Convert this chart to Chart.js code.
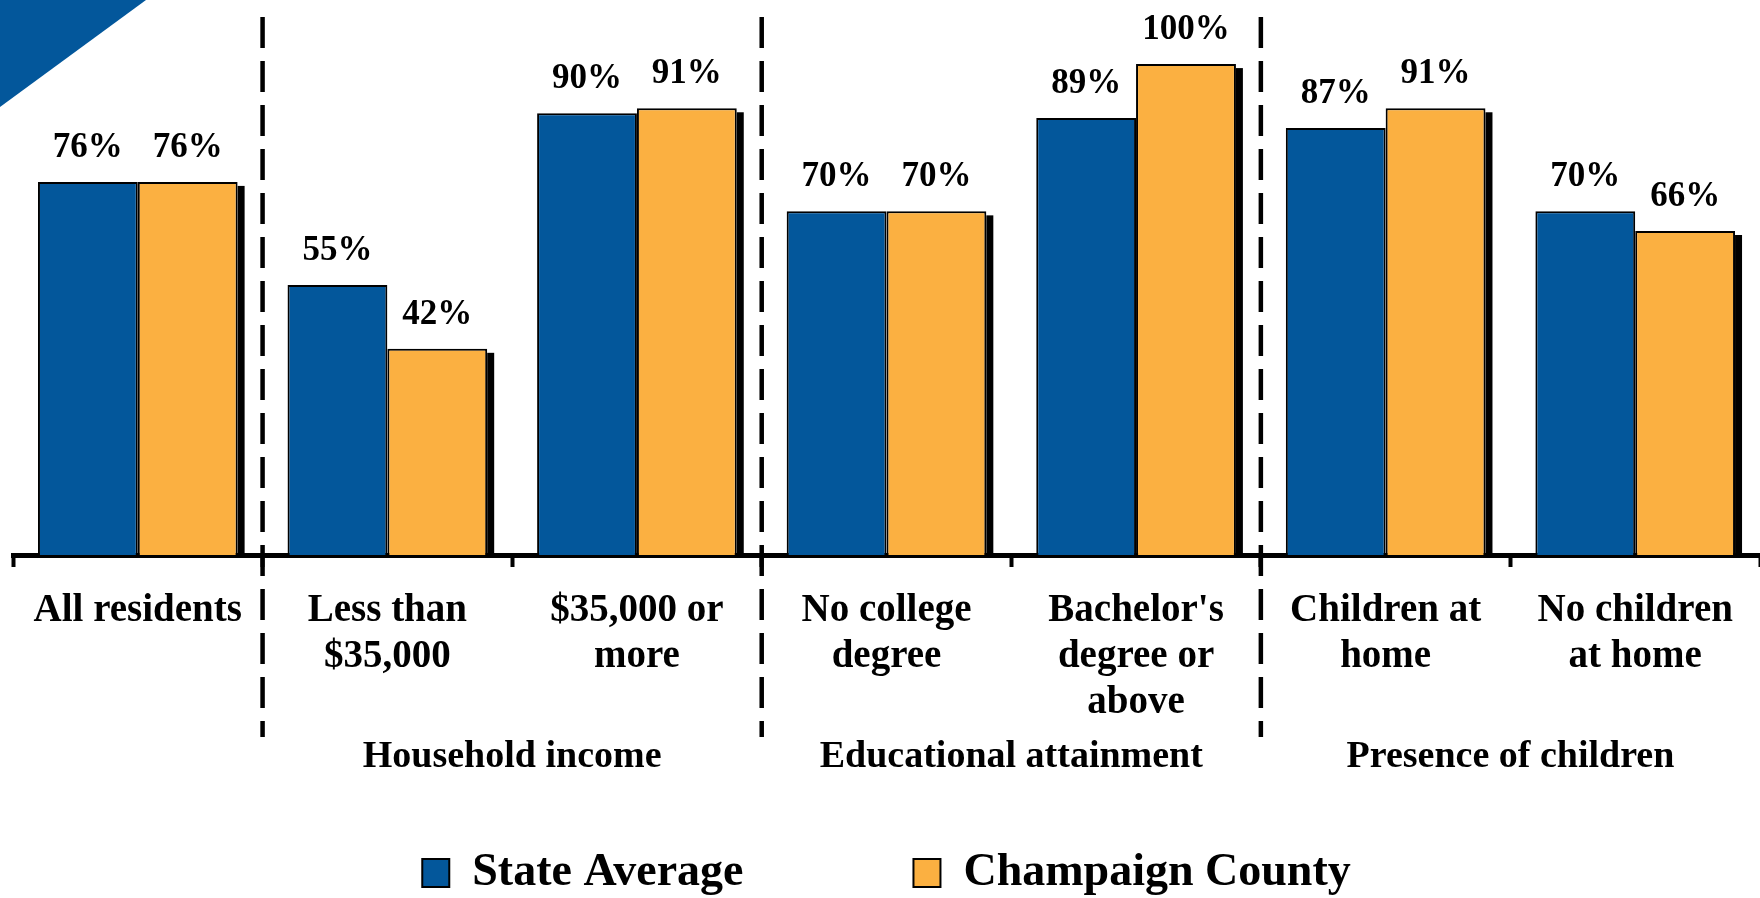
<!DOCTYPE html>
<html>
<head>
<meta charset="utf-8">
<title>State Average vs Champaign County</title>
<script src="https://cdn.jsdelivr.net/npm/chart.js@4/dist/chart.umd.min.js"></script>
<style>
    html, body { margin: 0; padding: 0; background: #ffffff; }
    #wrap { position: relative; width: 1760px; height: 898px; }
</style>
</head>
<body>
<div id="wrap"><canvas id="groupChart"></canvas></div>
<script>
// Chart data
const categories = [
    'All residents',
    ['Less than', '$35,000'],
    ['$35,000 or', 'more'],
    ['No college', 'degree'],
    ["Bachelor's", 'degree or', 'above'],
    ['Children at', 'home'],
    ['No children', 'at home']
];
const seriesNames = ['State Average', 'Champaign County'];
const stateAverage = [76, 55, 90, 70, 89, 87, 70];
const champaignCounty = [76, 42, 91, 70, 100, 91, 66];

// Group captions under the axis, and the category index pairs they span
const groupLabels = ['Household income', 'Educational attainment', 'Presence of children'];
const groupSpans = [[1, 2], [3, 4], [5, 6]];
// Dashed dividers sit after these category indexes
const dividerAfter = [0, 2, 4];

const SERIF = "'Liberation Serif', 'DejaVu Serif', serif";
const BLUE = '#03579B';
const ORANGE = '#FBB041';

/**
 * Blue corner of the slide
 */
const cornerPlugin = {
    id: 'corner',
    beforeDraw(chart) {
        const ctx = chart.ctx;
        ctx.save();
        ctx.fillStyle = BLUE;
        ctx.beginPath();
        ctx.moveTo(0, 0);
        ctx.lineTo(146, 0);
        ctx.lineTo(0, 107);
        ctx.closePath();
        ctx.fill();
        ctx.restore();
    }
};

/**
 * Let the three-line tick labels run below the (short) axis box
 */
const labelRoomPlugin = {
    id: 'labelRoom',
    afterLayout(chart) {
        const x = chart.scales.x;
        x.bottom = x.top + 180;
    }
};

/**
 * Drop shadow on the right of the second bar of each pair
 */
const shadowPlugin = {
    id: 'barShadow',
    beforeDatasetsDraw(chart) {
        const ctx = chart.ctx;
        const meta = chart.getDatasetMeta(1);
        ctx.save();
        ctx.fillStyle = '#000000';
        meta.data.forEach(bar => {
            const right = bar.x + bar.width / 2;
            ctx.fillRect(right, bar.y + 4, 7, bar.base - bar.y - 4);
        });
        ctx.restore();
    }
};

/**
 * Percent labels above the bars
 */
const valueLabelPlugin = {
    id: 'valueLabels',
    afterDatasetsDraw(chart) {
        const ctx = chart.ctx;
        ctx.save();
        ctx.font = 'bold 35px ' + SERIF;
        ctx.fillStyle = '#000000';
        ctx.textAlign = 'center';
        ctx.textBaseline = 'alphabetic';
        chart.data.datasets.forEach((ds, di) => {
            chart.getDatasetMeta(di).data.forEach((bar, i) => {
                ctx.fillText(ds.data[i] + '%', bar.x, bar.y - 25);
            });
        });
        ctx.restore();
    }
};

/**
 * Dashed dividers and group captions
 */
const groupPlugin = {
    id: 'groups',
    afterDraw(chart) {
        const ctx = chart.ctx;
        const x = chart.scales.x;
        ctx.save();
        ctx.strokeStyle = '#000000';
        ctx.lineWidth = 4.5;
        ctx.setLineDash([31, 13]);
        dividerAfter.forEach(i => {
            const px = (x.getPixelForValue(i) + x.getPixelForValue(i + 1)) / 2;
            ctx.beginPath();
            ctx.moveTo(px, 17);
            ctx.lineTo(px, 737);
            ctx.stroke();
        });
        ctx.setLineDash([]);

        ctx.font = 'bold 38px ' + SERIF;
        ctx.fillStyle = '#000000';
        ctx.textAlign = 'center';
        ctx.textBaseline = 'middle';
        groupLabels.forEach((label, g) => {
            const [a, b] = groupSpans[g];
            const px = (x.getPixelForValue(a) + x.getPixelForValue(b)) / 2;
            ctx.fillText(label, px, 757);
        });
        ctx.restore();
    }
};

function createGroupChart() {
    const ctx = document.getElementById('groupChart');
    if (!ctx) return null;

    return new Chart(ctx, {
        type: 'bar',
        data: {
            labels: categories,
            datasets: [{
                label: seriesNames[0],
                data: stateAverage,
                backgroundColor: BLUE,
                borderColor: '#000000',
                borderWidth: 2,
                categoryPercentage: 0.8,
                barPercentage: 1.0
            }, {
                label: seriesNames[1],
                data: champaignCounty,
                backgroundColor: ORANGE,
                borderColor: '#000000',
                borderWidth: 2,
                categoryPercentage: 0.8,
                barPercentage: 1.0
            }]
        },
        options: {
            responsive: true,
            maintainAspectRatio: false,
            animation: false,
            layout: {
                padding: { top: 15, left: 13, right: 0, bottom: -8 }
            },
            plugins: {
                legend: {
                    position: 'bottom',
                    align: 'center',
                    labels: {
                        boxWidth: 27,
                        boxHeight: 28,
                        padding: 170,
                        color: '#000000',
                        font: {
                            family: SERIF,
                            size: 46,
                            weight: 'bold'
                        }
                    }
                },
                tooltip: { enabled: false }
            },
            scales: {
                x: {
                    z: 1,
                    grid: {
                        display: true,
                        drawOnChartArea: false,
                        drawTicks: true,
                        tickLength: 12,
                        tickWidth: 4,
                        tickColor: '#000000',
                        offset: true
                    },
                    border: {
                        display: true,
                        color: '#000000',
                        width: 5
                    },
                    ticks: {
                        autoSkip: false,
                        maxRotation: 0,
                        padding: 21,
                        color: '#000000',
                        font: {
                            family: SERIF,
                            size: 39,
                            weight: 'bold',
                            lineHeight: 1.18
                        }
                    },
                    afterFit: function(scale) {
                        scale.height = 125;
                    }
                },
                y: {
                    display: false,
                    min: 0,
                    max: 110
                }
            }
        },
        plugins: [cornerPlugin, labelRoomPlugin, shadowPlugin, valueLabelPlugin, groupPlugin]
    });
}

createGroupChart();
</script>
</body>
</html>
